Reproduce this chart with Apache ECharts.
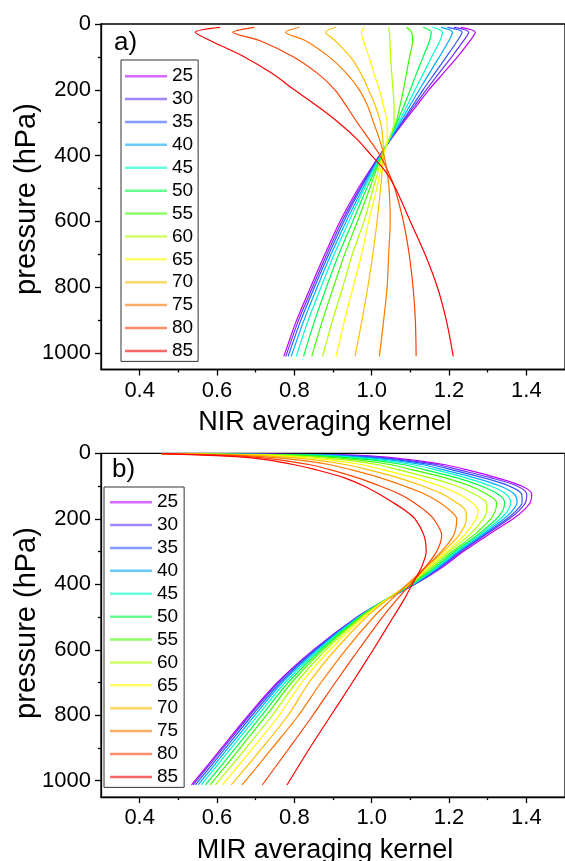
<!DOCTYPE html>
<html><head><meta charset="utf-8">
<script src="https://cdn.jsdelivr.net/npm/echarts@6/dist/echarts.min.js"></script>
<style>html,body{margin:0;padding:0;background:#fff}#c{width:565px;height:861px}</style>
</head><body><div id="c"></div>
<script>
const latitudes = ['25','30','35','40','45','50','55','60','65','70','75','80','85'];
const lineColors = ['#bf00ff','#6633ff','#3355ff','#00aaff','#00ffcc','#00ff44','#40ff00','#b0ff00','#ffff00','#ffbf00','#ff7700','#ff4000','#ff0000'];

const xTickLabels = [0.4, 0.6, 0.8, 1.0, 1.2, 1.4];
const xMinorTicks = [0.5, 0.7, 0.9, 1.1, 1.3];
const yTickLabels = [0, 200, 400, 600, 800, 1000];
const yMinorTicks = [100, 300, 500, 700, 900];

// NIR panel (a)
const nirPressure = [10, 25, 50, 100, 150, 200, 250, 300, 350, 400, 450, 500, 600, 700, 800, 900, 1010];
const nir25 = [1.230, 1.268, 1.255, 1.222, 1.185, 1.148, 1.115, 1.082, 1.050, 1.020, 0.992, 0.965, 0.918, 0.879, 0.842, 0.806, 0.773];
const nir30 = [1.213, 1.251, 1.238, 1.207, 1.174, 1.141, 1.110, 1.079, 1.049, 1.021, 0.994, 0.969, 0.923, 0.884, 0.847, 0.811, 0.778];
const nir35 = [1.196, 1.234, 1.222, 1.193, 1.163, 1.133, 1.105, 1.077, 1.049, 1.022, 0.996, 0.972, 0.928, 0.889, 0.852, 0.817, 0.784];
const nir40 = [1.179, 1.209, 1.200, 1.175, 1.149, 1.123, 1.098, 1.073, 1.048, 1.023, 0.999, 0.977, 0.934, 0.895, 0.859, 0.825, 0.792];
const nir45 = [1.158, 1.183, 1.177, 1.155, 1.134, 1.112, 1.091, 1.069, 1.046, 1.024, 1.002, 0.981, 0.941, 0.903, 0.869, 0.836, 0.805];
const nir50 = [1.133, 1.154, 1.150, 1.133, 1.116, 1.100, 1.083, 1.065, 1.045, 1.025, 1.006, 0.987, 0.951, 0.915, 0.883, 0.853, 0.824];
const nir55 = [1.090, 1.103, 1.106, 1.098, 1.090, 1.082, 1.073, 1.063, 1.045, 1.026, 1.010, 0.995, 0.963, 0.930, 0.901, 0.873, 0.845];
const nir60 = [1.044, 1.046, 1.047, 1.049, 1.052, 1.055, 1.058, 1.058, 1.045, 1.028, 1.016, 1.004, 0.980, 0.950, 0.925, 0.899, 0.873];
const nir65 = [0.980, 0.974, 0.978, 0.993, 1.006, 1.020, 1.031, 1.040, 1.040, 1.031, 1.022, 1.013, 0.992, 0.974, 0.952, 0.930, 0.908];
const nir70 = [0.908, 0.881, 0.905, 0.945, 0.972, 0.992, 1.010, 1.023, 1.029, 1.030, 1.027, 1.023, 1.014, 1.003, 0.990, 0.975, 0.957];
const nir75 = [0.813, 0.777, 0.828, 0.890, 0.935, 0.968, 0.990, 1.005, 1.020, 1.032, 1.040, 1.045, 1.048, 1.044, 1.040, 1.031, 1.020];
const nir80 = [0.697, 0.641, 0.710, 0.798, 0.860, 0.905, 0.935, 0.963, 0.993, 1.022, 1.043, 1.060, 1.082, 1.097, 1.107, 1.113, 1.115];
const nir85 = [0.608, 0.544, 0.582, 0.671, 0.742, 0.800, 0.860, 0.915, 0.962, 1.000, 1.037, 1.062, 1.100, 1.138, 1.170, 1.193, 1.211];

// MIR panel (b)
const mirPressure = [1, 5, 10, 20, 35, 50, 75, 100, 125, 150, 175, 200, 250, 300, 350, 400, 450, 500, 600, 700, 800, 900, 1013];
const mir25 = [0.456, 0.930, 1.020, 1.103, 1.190, 1.245, 1.325, 1.388, 1.414, 1.410, 1.392, 1.366, 1.300, 1.237, 1.180, 1.112, 1.033, 0.962, 0.850, 0.756, 0.681, 0.612, 0.534];
const mir30 = [0.456, 0.902, 0.996, 1.082, 1.172, 1.224, 1.309, 1.376, 1.401, 1.398, 1.381, 1.356, 1.293, 1.232, 1.177, 1.111, 1.033, 0.963, 0.852, 0.759, 0.685, 0.616, 0.538];
const mir35 = [0.456, 0.878, 0.976, 1.065, 1.154, 1.206, 1.290, 1.356, 1.388, 1.389, 1.374, 1.350, 1.289, 1.228, 1.174, 1.110, 1.033, 0.964, 0.855, 0.764, 0.691, 0.622, 0.544];
const mir40 = [0.456, 0.852, 0.954, 1.046, 1.134, 1.184, 1.267, 1.332, 1.369, 1.376, 1.364, 1.342, 1.284, 1.224, 1.170, 1.108, 1.032, 0.965, 0.859, 0.769, 0.698, 0.629, 0.551];
const mir45 = [0.456, 0.827, 0.927, 1.022, 1.108, 1.163, 1.244, 1.308, 1.348, 1.360, 1.352, 1.333, 1.279, 1.220, 1.166, 1.106, 1.032, 0.967, 0.863, 0.776, 0.706, 0.637, 0.559];
const mir50 = [0.456, 0.803, 0.900, 0.998, 1.083, 1.136, 1.221, 1.283, 1.327, 1.344, 1.339, 1.323, 1.273, 1.215, 1.162, 1.104, 1.033, 0.969, 0.868, 0.784, 0.716, 0.648, 0.570];
const mir55 = [0.456, 0.768, 0.864, 0.964, 1.051, 1.103, 1.190, 1.255, 1.298, 1.323, 1.320, 1.308, 1.264, 1.208, 1.156, 1.101, 1.032, 0.971, 0.874, 0.793, 0.728, 0.660, 0.582];
const mir60 = [0.456, 0.735, 0.827, 0.929, 1.017, 1.068, 1.152, 1.220, 1.266, 1.296, 1.298, 1.289, 1.252, 1.200, 1.150, 1.098, 1.033, 0.975, 0.882, 0.805, 0.743, 0.675, 0.596];
const mir65 = [0.456, 0.702, 0.792, 0.890, 0.976, 1.029, 1.111, 1.177, 1.226, 1.259, 1.275, 1.270, 1.240, 1.193, 1.145, 1.096, 1.034, 0.979, 0.892, 0.819, 0.761, 0.693, 0.614];
const mir70 = [0.456, 0.670, 0.757, 0.852, 0.935, 0.990, 1.069, 1.132, 1.184, 1.219, 1.243, 1.245, 1.226, 1.185, 1.140, 1.094, 1.037, 0.986, 0.906, 0.838, 0.784, 0.717, 0.637];
const mir75 = [0.456, 0.632, 0.716, 0.808, 0.893, 0.946, 1.023, 1.084, 1.138, 1.176, 1.203, 1.220, 1.212, 1.180, 1.137, 1.092, 1.048, 1.005, 0.933, 0.869, 0.811, 0.743, 0.665];
const mir80 = [0.456, 0.594, 0.681, 0.761, 0.841, 0.892, 0.964, 1.022, 1.073, 1.109, 1.138, 1.160, 1.181, 1.168, 1.137, 1.100, 1.063, 1.028, 0.966, 0.906, 0.848, 0.787, 0.717];
const mir85 = [0.456, 0.550, 0.650, 0.730, 0.800, 0.855, 0.930, 0.980, 1.020, 1.055, 1.087, 1.112, 1.135, 1.141, 1.128, 1.105, 1.082, 1.056, 1.004, 0.950, 0.895, 0.840, 0.781];

const nirSeries = [nir25, nir30, nir35, nir40, nir45, nir50, nir55, nir60, nir65, nir70, nir75, nir80, nir85];
const mirSeries = [mir25, mir30, mir35, mir40, mir45, mir50, mir55, mir60, mir65, mir70, mir75, mir80, mir85];

const FONT = 'Liberation Sans, Arial, sans-serif';
const AX = '#000';

function xAxes(grid) {
  return [
    { gridIndex: grid, type: 'value', min: 0.3, max: 1.5, position: 'bottom',
      axisLine: { show: true, onZero: false, lineStyle: { color: AX, width: 1.3 } },
      axisTick: { show: true, length: 6, customValues: xTickLabels, lineStyle: { color: AX, width: 1.3 } },
      axisLabel: { show: true, customValues: xTickLabels, formatter: v => Number(v).toFixed(1), fontSize: 22, color: '#000', margin: 10, fontFamily: FONT },
      splitLine: { show: false } },
    { gridIndex: grid, type: 'value', min: 0.3, max: 1.5, position: 'bottom',
      axisLine: { show: false, onZero: false },
      axisTick: { show: true, length: 3, customValues: xMinorTicks, lineStyle: { color: AX, width: 1.3 } },
      axisLabel: { show: false }, splitLine: { show: false } }
  ];
}
function yAxes(grid) {
  return [
    { gridIndex: grid, type: 'value', min: 0, max: 1050, inverse: true, position: 'left',
      axisLine: { show: true, onZero: false, lineStyle: { color: AX, width: 1.3 } },
      axisTick: { show: true, length: 6, customValues: yTickLabels, lineStyle: { color: AX, width: 1.3 } },
      axisLabel: { show: true, customValues: yTickLabels, formatter: v => String(Math.round(v)), fontSize: 22, color: '#000', margin: 10, fontFamily: FONT },
      splitLine: { show: false } },
    { gridIndex: grid, type: 'value', min: 0, max: 1050, inverse: true, position: 'left',
      axisLine: { show: false, onZero: false },
      axisTick: { show: true, length: 3, customValues: yMinorTicks, lineStyle: { color: AX, width: 1.3 } },
      axisLabel: { show: false }, splitLine: { show: false } }
  ];
}

const series = [];
latitudes.forEach((lat, i) => {
  series.push({ type: 'line', name: lat, xAxisIndex: 0, yAxisIndex: 0, symbol: 'none',
    smooth: 0.3,
    data: nirSeries[i].map((v, k) => [v, nirPressure[k]]),
    lineStyle: { color: lineColors[i], width: 1.2 }, itemStyle: { color: lineColors[i] } });
});
latitudes.forEach((lat, i) => {
  series.push({ type: 'line', name: lat, xAxisIndex: 2, yAxisIndex: 2, symbol: 'none',
    smooth: 0.3,
    data: mirSeries[i].map((v, k) => [v, mirPressure[k]]),
    lineStyle: { color: lineColors[i], width: 1.2 }, itemStyle: { color: lineColors[i] } });
});

function legend(left, top, padding) {
  return { data: latitudes, orient: 'vertical', left: left, top: top, padding: padding,
    icon: 'rect', itemWidth: 42, itemHeight: 2.5, itemGap: 3.89, selectedMode: false,
    borderColor: '#333', borderWidth: 1,
    itemStyle: { opacity: 0.6 },
    textStyle: { fontSize: 19, color: '#000', fontFamily: FONT, lineHeight: 18 } };
}

const chart = echarts.init(document.getElementById('c'), null, { renderer: 'canvas' });
chart.setOption({
  animation: false,
  backgroundColor: '#fff',
  textStyle: { fontFamily: FONT },
  grid: [
    { left: 101, top: 24, width: 472, height: 345.5, show: true, borderColor: '#000', borderWidth: 1.3, backgroundColor: 'transparent' },
    { left: 101, top: 453.3, width: 472, height: 343.8, show: true, borderColor: '#000', borderWidth: 1.3, backgroundColor: 'transparent' }
  ],
  xAxis: [...xAxes(0), ...xAxes(1)],
  yAxis: [...yAxes(0), ...yAxes(1)],
  legend: [legend(121, 60, [6.7, 5, 1, 4]), legend(104, 487, [5.7, 6, 1, 6])],
  series: series,
  graphic: [
    { type: 'text', x: 114, y: 43, style: { text: 'a)', font: '26px ' + FONT, fill: '#000', textAlign: 'left', textVerticalAlign: 'middle', verticalAlign: 'middle' } },
    { type: 'text', x: 112, y: 470, style: { text: 'b)', font: '26px ' + FONT, fill: '#000', textAlign: 'left', textVerticalAlign: 'middle', verticalAlign: 'middle' } },
    { type: 'text', x: 325, y: 423, style: { text: 'NIR averaging kernel', font: '27px ' + FONT, fill: '#000', textAlign: 'center', textVerticalAlign: 'middle', verticalAlign: 'middle' } },
    { type: 'text', x: 325, y: 851, style: { text: 'MIR averaging kernel', font: '27px ' + FONT, fill: '#000', textAlign: 'center', textVerticalAlign: 'middle', verticalAlign: 'middle' } },
    { type: 'text', x: 27, y: 199, rotation: Math.PI / 2, style: { text: 'pressure (hPa)', font: '29px ' + FONT, fill: '#000', textAlign: 'center', textVerticalAlign: 'middle', verticalAlign: 'middle' } },
    { type: 'text', x: 27, y: 623, rotation: Math.PI / 2, style: { text: 'pressure (hPa)', font: '29px ' + FONT, fill: '#000', textAlign: 'center', textVerticalAlign: 'middle', verticalAlign: 'middle' } }
  ]
});
</script>
</body></html>
